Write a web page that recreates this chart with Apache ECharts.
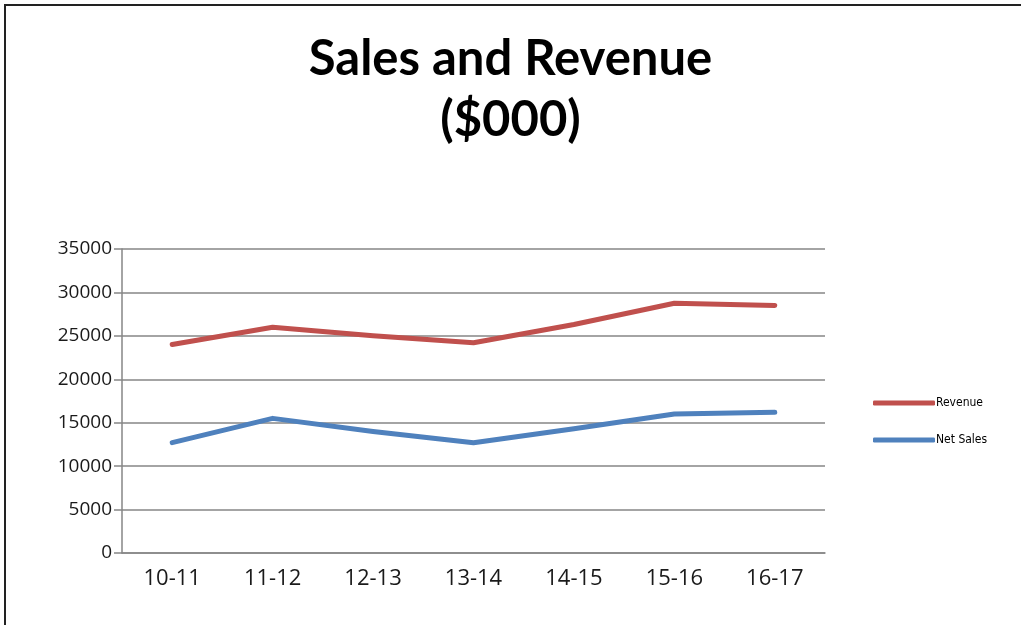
<!DOCTYPE html>
<html>
<head>
<meta charset="utf-8">
<script src="https://cdn.jsdelivr.net/npm/echarts@6/dist/echarts.min.js"></script>
<style>
html,body{margin:0;padding:0;background:#fff;}
#wrap{position:absolute;left:0;top:0;width:1021px;height:625px;background:#fff;}
#frame{position:absolute;left:4px;top:4px;width:1017px;height:621px;border-top:2px solid #222;border-left:2px solid #222;box-sizing:border-box;}
#chart{position:absolute;left:0;top:0;width:1021px;height:625px;}
</style>
</head>
<body>
<div id="wrap"><div id="chart"></div><div id="frame"></div></div>
<script>
const categories = ['10-11','11-12','12-13','13-14','14-15','15-16','16-17'];
const revenue = [24000, 26000, 25000, 24200, 26300, 28750, 28500];
const netSales = [12700, 15500, 14000, 12700, 14300, 16000, 16200];
const seriesNames = ['Revenue', 'Net Sales'];
const titleText = 'Sales and Revenue\n($000)';

const chart = echarts.init(document.getElementById('chart'), null, {renderer:'canvas'});
const axisGray = '#868686';
chart.setOption({
  backgroundColor: '#fff',
  animation: false,
  title: {
    text: titleText,
    left: 'center',
    top: 24,
    padding: [5, 5, 5, 19],
    textStyle: {fontFamily: 'Lato', fontWeight: 'bold', fontSize: 49, lineHeight: 61, color: '#000'}
  },
  legend: {
    orient: 'vertical',
    left: 868,
    top: 392,
    itemWidth: 62,
    itemHeight: 5,
    itemGap: 25,
    icon: 'roundRect',
    data: seriesNames,
    textStyle: {fontFamily: 'DejaVu Sans Condensed', fontSize: 12, color: '#000', padding: [0,0,0,-4]}
  },
  grid: {left: 122, right: 196, top: 249, bottom: 72},
  xAxis: {
    type: 'category',
    data: categories,
    boundaryGap: true,
    axisLine: {lineStyle: {color: axisGray, width: 1.5}},
    axisTick: {length: 10, lineStyle: {color: axisGray, width: 1.5}},
    axisLabel: {fontFamily: 'Open Sans', fontWeight: 500, fontSize: 22, color: '#1a1a1a', margin: 15}
  },
  yAxis: {
    type: 'value',
    min: 0, max: 35000, interval: 5000,
    axisLine: {show: true, lineStyle: {color: axisGray, width: 1.5}},
    axisTick: {show: true, length: 8, lineStyle: {color: axisGray, width: 1.5}},
    splitLine: {lineStyle: {color: axisGray, width: 1.5}},
    axisLabel: {fontFamily: 'Open Sans', fontWeight: 500, fontSize: 19, color: '#1a1a1a', margin: 10,
      formatter: function (v) { return String(v); }}
  },
  series: [
    {name: seriesNames[0], type: 'line', data: revenue, symbol: 'none', smooth: false,
     lineStyle: {color: '#C0504D', width: 5, cap: 'round', join: 'round'}, itemStyle: {color: '#C0504D'}},
    {name: seriesNames[1], type: 'line', data: netSales, symbol: 'none', smooth: false,
     lineStyle: {color: '#4F81BD', width: 5, cap: 'round', join: 'round'}, itemStyle: {color: '#4F81BD'}}
  ]
});
</script>
</body>
</html>
